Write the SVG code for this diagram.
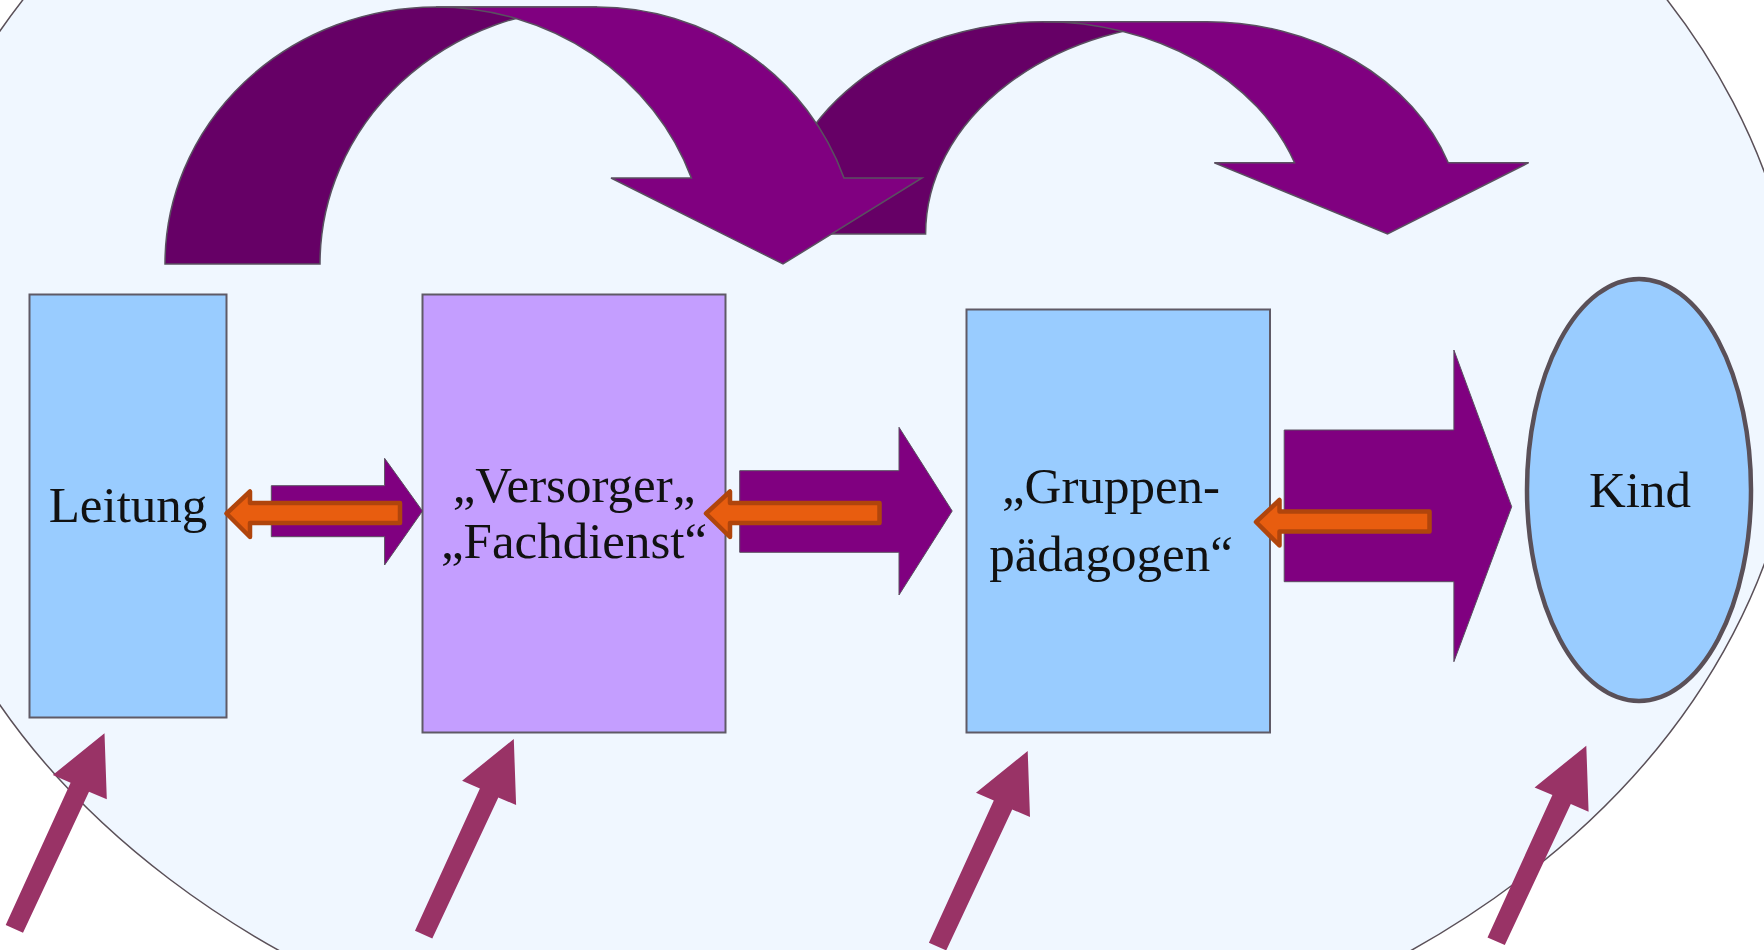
<svg xmlns="http://www.w3.org/2000/svg" xmlns:xlink="http://www.w3.org/1999/xlink" width="1764" height="950" viewBox="0 0 1764 950">
<style>
.box{stroke:#5f5a66;stroke-width:2}
.blue{fill:#99ccff}
.lilac{fill:#c49eff}
.lbl{font-family:"Liberation Serif","Times New Roman",serif;font-size:51px;fill:#111111;text-anchor:middle}
.dark{fill:#660066;stroke:#5a5060;stroke-width:1.5;stroke-linejoin:miter}
.light{fill:#800080;stroke:#5a5060;stroke-width:1.5;stroke-linejoin:miter}
.block{fill:#800080;stroke:#5a5060;stroke-width:1}
.orange{fill:#e85d0f;stroke:#b0450c;stroke-width:4.5;stroke-linejoin:round}
.pink{fill:#993366}
</style>
<defs>
<path id="pinkArrow" d="M0,0 L2.3,66 L-15.5,58.4 L-81.5,199.4 L-98.8,191.7 L-33.9,49.4 L-51.7,41.7 Z"/>
</defs>
<rect x="0" y="0" width="1764" height="950" fill="#ffffff"/>
<ellipse id="background" cx="845" cy="368" rx="955" ry="723" fill="#f0f7ff" stroke="#5a5058" stroke-width="1.5"/>

<g id="leitung">
<rect class="box blue" x="29.5" y="294.5" width="197" height="423"/>
<text class="lbl" x="128" y="522">Leitung</text>
</g>
<g id="versorger">
<rect class="box lilac" x="422.5" y="294.5" width="303" height="438"/>
<text class="lbl" x="574" y="502">„Versorger„</text>
<text class="lbl" x="574" y="558">„Fachdienst“</text>
</g>
<g id="gruppen">
<rect class="box blue" x="966.5" y="309.5" width="303.5" height="423"/>
<text class="lbl" x="1111" y="503">„Gruppen-</text>
<text class="lbl" x="1111" y="571">pädagogen“</text>
</g>
<g id="kind">
<ellipse cx="1639" cy="490" rx="112" ry="211" fill="#99ccff" stroke="#5a5058" stroke-width="4.5"/>
<text class="lbl" x="1640" y="507">Kind</text>
</g>

<g id="connectors">
<g id="curved2">
<path class="dark" d="M777,234 A266.5,212.3 0 0 1 1043.6,21.7 L1206.7,21.7 A281,212.3 0 0 0 925.6,234 Z"/>
<path class="light" d="M1043.6,21.7 L1206.7,21.7 A256.5,212.3 0 0 1 1448.3,162.7 L1528.7,162.7 L1387.5,234 L1214.3,162.7 L1294.6,162.7 A266.5,212.3 0 0 0 1043.6,21.7 Z"/>
</g>
<g id="curved1">
<path class="dark" d="M165,264 A271,257 0 0 1 436,7 L597,7 A277,257 0 0 0 320,264 Z"/>
<path class="light" d="M436,7 L597,7 A262,257 0 0 1 844,178 L922,178 L783,264 L611,178 L691.4,178 A271,257 0 0 0 436,7 Z"/>
</g>
<path class="block" d="M271.3,485.7 L384.6,485.7 L384.6,458.3 L422.5,511 L384.6,565 L384.6,536.7 L271.3,536.7 Z"/>
<path class="block" d="M739.7,470.7 L899,470.7 L899,427.3 L952.2,511 L899,595 L899,552.3 L739.7,552.3 Z"/>
<path class="block" d="M1284.2,430 L1453.9,430 L1453.9,350 L1511.7,506.7 L1453.9,661.7 L1453.9,581.7 L1284.2,581.7 Z"/>
<path class="orange" d="M226.5,513.5 L250,491.5 L250,503 L400,503 L400,523 L250,523 L250,537 Z"/>
<path class="orange" d="M706,513.5 L730,491.5 L730,503 L879.5,503 L879.5,523 L730,523 L730,537 Z"/>
<path class="orange" d="M1256,522 L1279.5,500 L1279.5,511.5 L1429.5,511.5 L1429.5,531.5 L1279.5,531.5 L1279.5,545.5 Z"/>
<use class="pink" xlink:href="#pinkArrow" href="#pinkArrow" transform="translate(104.5,733.3)"/>
<use class="pink" xlink:href="#pinkArrow" href="#pinkArrow" transform="translate(513.8,739)"/>
<use class="pink" xlink:href="#pinkArrow" href="#pinkArrow" transform="translate(1027.7,751)"/>
<use class="pink" xlink:href="#pinkArrow" href="#pinkArrow" transform="translate(1586.3,745.7)"/>
</g>
</svg>
